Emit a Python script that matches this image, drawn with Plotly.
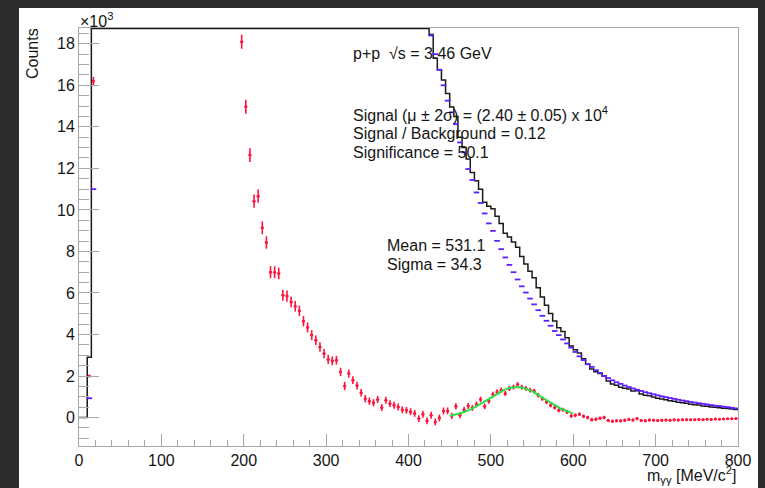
import plotly.graph_objects as go
import math

# ---------------- data (counts per 5 MeV bin, 0..800 MeV) ----------------
N = None  # bin off the top of the frame / not drawn
X_MIN, X_MAX, BIN_W = 0.0, 800.0, 5.0
Y_MIN, Y_MAX = -1370.0, 18760.0

# same-event (black histogram)
same_event = [0, 0, 2900] + [N] * 82 + [
    18450, 17300, 16750, 16250, 15600, 14950, 14500, 13500, 13000, 12450,
    11800, 11400, 11000, 10370, 10170, 10050, 9700, 9350, 8870, 8700,
    8450, 8200, 7750, 7400, 7050, 6730, 6250, 5810, 5410, 5010,
    4650, 4320, 4140, 3840, 3450, 3270, 3110, 2830, 2570, 2340,
    2200, 2120, 2000, 1760, 1610, 1550, 1460, 1410, 1380, 1280,
    1290, 1140, 1070, 1050, 990, 930, 890, 860, 810, 790,
    740, 710, 690, 640, 620, 600, 560, 550, 510, 500,
    470, 450, 440, 410, 390]

# mixed-event background (blue)
mixed_event = [N, N, 930, 11000] + [N] * 81 + [
    18400, 17500, 16750, 16000, 15260, 14700, 14130, 13250, 12770, 11970,
    11440, 10840, 10330, 9830, 9350, 8990, 8510, 8110, 7710, 7350,
    7000, 6650, 6320, 6020, 5730, 5450, 5170, 4900, 4660, 4420,
    4170, 3970, 3760, 3570, 3370, 3160, 2950, 2770, 2570, 2440,
    2280, 2150, 2000, 1900, 1790, 1700, 1620, 1540, 1470, 1400,
    1340, 1280, 1220, 1170, 1120, 1070, 1020, 980, 940, 900,
    860, 820, 790, 750, 720, 690, 660, 630, 600, 570,
    550, 520, 500, 470, 440]

# background-subtracted signal (red)
signal = [N, N, 2000, 16200] + [N] * 35 + [
    18100, 14970, 12640, 10420, 10660, 9140, 8430, 7000, 7000, 6940,
    5890, 5850, 5570, 5360, 5140, 4640, 4340, 3970, 3720, 3400,
    3080, 2800, 2730, 2760, 2200, 1520, 2120, 1800, 1540, 1190,
    910, 790, 710, 870, 480, 830, 670, 590, 510, 370,
    350, 280, 200, -50, 160, -160, 110, -210, -20, 320,
    320, 80, 540, 110, 380, 560, 460, 630, 870, 540,
    800, 1110, 1230, 1320, 1160, 1400, 1470, 1590, 1460, 1400,
    1320, 1280, 1070, 910, 750, 590, 480, 350, 380, 270,
    80, 110, 160, 60, 0, -100, -80, -30, 0, -140,
    -180, -150, -160, -130, -90, -120, -50, -140, -150, -120,
    -130, -140, -130, -120, -130, -110, -120, -110, -100, -110,
    -100, -90, -100, -80, -90, -70, -80, -70, -60, -60,
    -50]

signal_err = [N, N, 60, 210] + [N] * 35 + [
    340, 340, 330, 320, 320, 310, 300, 290, 290, 280,
    270, 270, 260, 260, 250, 250, 240, 240, 230, 230,
    220, 220, 210, 210, 200, 200, 195, 190, 185, 180,
    180, 175, 175, 170, 170, 170, 165, 165, 165, 165,
    165, 165, 165, 165, 165, 165, 165, 165, 165, 165,
    165, 150, 148, 146, 144, 142, 140, 138, 136, 134,
    132, 130, 128, 126, 124, 122, 120, 118, 116, 114,
    112, 110, 108, 106, 104, 102, 100, 98, 96, 94,
    92, 90, 89, 88, 87, 86, 85, 84, 83, 82,
    81, 80, 79, 78, 77, 76, 75, 74, 73, 72,
    71, 70, 69, 68, 67, 66, 65, 64, 63, 62,
    61, 60, 59, 58, 57, 56, 56, 55, 55, 54,
    54]

# Gaussian fit parameters (shown on the chart)
FIT_MEAN, FIT_SIGMA, FIT_AMP = 531.1, 34.3, 1470.0
FIT_RANGE = (450.0, 600.0)

x_ticks = [0, 100, 200, 300, 400, 500, 600, 700, 800]
y_ticks = [0, 2, 4, 6, 8, 10, 12, 14, 16, 18]

# ---------------- derived ----------------
S = 1000.0
nb = len(same_event)
centers = [X_MIN + BIN_W * (i + 0.5) for i in range(nb)]
edges = [X_MIN + BIN_W * i for i in range(nb + 1)]

top_clip = (Y_MAX - 30) / S
hist_y = [top_clip if v is None else min(v / S, top_clip) for v in same_event]
hist_y = hist_y + [hist_y[-1]]

bx = [c for c, v in zip(centers, mixed_event) if v is not None]
by = [v / S for v in mixed_event if v is not None]

rx, ry, re = [], [], []
for c, v, e in zip(centers, signal, signal_err):
    if v is not None:
        rx.append(c); ry.append(v / S); re.append(e / S)

fx = [FIT_RANGE[0] + (FIT_RANGE[1] - FIT_RANGE[0]) * k / 200 for k in range(201)]
fy = [FIT_AMP * math.exp(-0.5 * ((x - FIT_MEAN) / FIT_SIGMA) ** 2) / S for x in fx]

RED = "rgb(255,20,60)"
BLUE = "rgb(95,30,255)"
GREEN = "rgb(40,225,70)"
FONT = "Liberation Sans, Arial, Helvetica, sans-serif"
TXT = "#151515"
DARK = "#2d2d2d"

fig = go.Figure()
fig.add_trace(go.Scatter(x=edges, y=hist_y, mode="lines", line_shape="hv",
                         line=dict(color="#1a1a1a", width=1.5), showlegend=False,
                         hoverinfo="skip"))
fig.add_trace(go.Scatter(x=bx, y=by, mode="markers", showlegend=False,
                         marker=dict(symbol="line-ew", size=4, color=BLUE,
                                     line=dict(color=BLUE, width=1.8))))
fig.add_trace(go.Scatter(x=rx, y=ry, mode="markers", showlegend=False,
                         marker=dict(symbol="circle", size=3, color=RED),
                         error_y=dict(type="data", array=re, visible=True,
                                      color=RED, thickness=1.6, width=0),
                         error_x=dict(type="constant", value=1.8, visible=True,
                                      color=RED, thickness=1.5, width=0)))
fig.add_trace(go.Scatter(x=fx, y=fy, mode="lines", showlegend=False,
                         line=dict(color=GREEN, width=2)))

# canvas
L, R, T, B = 79, 27, 28, 42
W, H = 765, 488
pw, ph = W - L - R, H - T - B
def px_x(p): return (p - L) / pw
def px_y(p): return (H - B - p) / ph

fig.add_shape(type="rect", xref="paper", yref="paper", layer="below",
              x0=px_x(19), x1=px_x(758), y0=px_y(490), y1=px_y(8),
              fillcolor="white", line=dict(width=0))

ann_font = dict(family=FONT, size=16, color=TXT)
def ann(text, x, y):
    fig.add_annotation(text=text, x=x, y=y, xref="x", yref="y", showarrow=False,
                       xanchor="left", yanchor="middle", font=ann_font)

ann("p+p  √s = 3.46 GeV", 329.7, 17.55)
ann("Signal (μ ± 2σ) = (2.40 ± 0.05) x 10<sup>4</sup>", 329.7, 14.6)
ann("Signal / Background = 0.12", 329.7, 13.7)
ann("Significance = 50.1", 329.7, 12.75)
ann("Mean = 531.1", 371.4, 8.3)
ann("Sigma = 34.3", 371.4, 7.35)

fig.add_annotation(text="×10<sup>3</sup>", xref="paper", yref="paper",
                   x=px_x(78), y=px_y(20), xanchor="left", yanchor="middle",
                   showarrow=False, font=ann_font)
fig.add_annotation(text="Counts", xref="paper", yref="paper", textangle=-90,
                   x=px_x(32), y=px_y(54), xanchor="center", yanchor="middle",
                   showarrow=False, font=ann_font)
fig.add_annotation(text="m<sub>γγ</sub> [MeV/c<sup>2</sup>]", xref="paper", yref="paper",
                   x=1.0, y=px_y(475), xanchor="right", yanchor="middle",
                   showarrow=False, font=ann_font)

AX = "#a8a8a8"
fig.update_layout(
    width=W, height=H, margin=dict(l=L, r=R, t=T, b=B, pad=0),
    paper_bgcolor=DARK, plot_bgcolor="white",
    font=dict(family=FONT, size=16, color=TXT),
    xaxis=dict(range=[X_MIN, X_MAX], tickmode="array", tickvals=x_ticks,
               ticks="inside", ticklen=12, tickcolor=AX, tickwidth=1,
               minor=dict(ticks="inside", ticklen=6, dtick=20, tick0=0, tickcolor=AX),
               showline=True, linecolor=AX, linewidth=1, mirror=True,
               showgrid=False, zeroline=False, tickfont=dict(size=16, color=TXT)),
    yaxis=dict(range=[Y_MIN / S, Y_MAX / S], tickmode="array", tickvals=y_ticks,
               ticks="inside", ticklen=20, tickcolor=AX, tickwidth=1,
               minor=dict(ticks="inside", ticklen=10, dtick=0.5, tick0=0, tickcolor=AX),
               showline=True, linecolor=AX, linewidth=1, mirror=True,
               showgrid=False, zeroline=False, tickfont=dict(size=16, color=TXT)),
)

fig.write_html("out.html", config={"displayModeBar": False},
               post_script="document.body.style.margin='0';"
                           "document.body.style.background='" + DARK + "';")
